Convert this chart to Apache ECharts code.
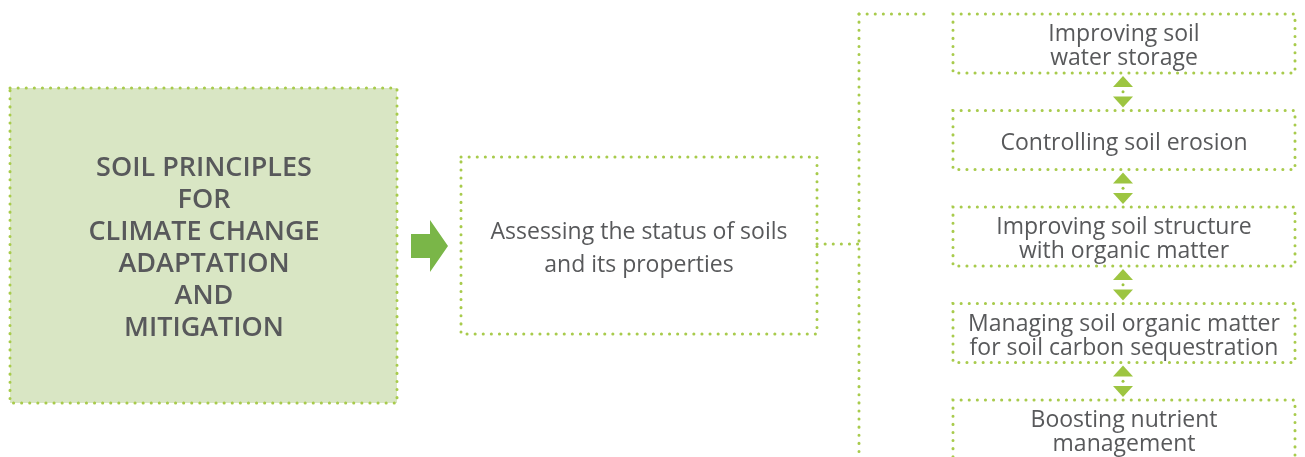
<!DOCTYPE html>
<html>
<head>
<meta charset="utf-8">
<script src="https://cdn.jsdelivr.net/npm/echarts@6/dist/echarts.min.js"></script>
<style>
  html, body { margin: 0; padding: 0; background: #fff; }
  #chart { width: 1305px; height: 457px; }
</style>
</head>
<body>
<div id="chart"></div>
<script>
// 文本数据
var titleLines = ['SOIL PRINCIPLES', 'FOR', 'CLIMATE CHANGE', 'ADAPTATION', 'AND', 'MITIGATION'];
var assessLines = ['Assessing the status of soils', 'and its properties'];
var steps = [
  ['Improving soil', 'water storage'],
  ['Controlling soil erosion'],
  ['Improving soil structure', 'with organic matter'],
  ['Managing soil organic matter', 'for soil carbon sequestration'],
  ['Boosting nutrient', 'management']
];

var chart = echarts.init(document.getElementById('chart'), null, { renderer: 'canvas' });

var GREEN = '#a8cb4c';
var ARROW = '#7ab648';
var TRI = '#9dc541';
var TEXT = '#58595b';
var FONT = '"Open Sans", "Noto Sans", sans-serif';

function dotted(x1, y1, x2, y2) {
  return {
    type: 'line',
    shape: { x1: x1, y1: y1, x2: x2, y2: y2 },
    style: { stroke: GREEN, lineWidth: 3, lineDash: [0.1, 8], lineCap: 'round' },
    silent: true
  };
}
function dottedRect(x, y, w, h, fill) {
  return {
    type: 'rect',
    shape: { x: x, y: y, width: w, height: h },
    style: { fill: fill || 'none', stroke: GREEN, lineWidth: 3, lineDash: [0.1, 8], lineCap: 'round' },
    silent: true
  };
}
function textBlock(lines, cx, cy, size, lh, weight) {
  var out = [];
  var top = cy - (lines.length - 1) * lh / 2;
  lines.forEach(function (t, i) {
    out.push({
      type: 'text',
      x: cx, y: top + i * lh,
      style: {
        text: t, fill: TEXT, font: weight + ' ' + size + 'px ' + FONT,
        textAlign: 'center', textVerticalAlign: 'middle'
      },
      silent: true
    });
  });
  return out;
}

var els = [];

// 左侧主题框
els.push(dottedRect(10, 88, 387, 315, '#d9e6c4'));
els = els.concat(textBlock(titleLines, 204, 248, 27, 32, '600'));

// 箭头
els.push({
  type: 'polygon',
  shape: { points: [[411, 234], [430, 234], [430, 220], [448, 246], [430, 272], [430, 258], [411, 258]] },
  style: { fill: ARROW },
  silent: true
});

// 中间框
els.push(dottedRect(461, 157, 356, 177));
els = els.concat(textBlock(assessLines, 639, 249, 23, 33, 'normal'));

// 连接线
els.push(dotted(817, 244, 859, 244));
els.push(dotted(859, 14, 859, 460));
els.push(dotted(859, 14, 930, 14));

// 右侧步骤
var boxX = 953, boxW = 342, boxH = 59, step = 96.5, top0 = 14;
steps.forEach(function (lines, i) {
  var y = top0 + i * step;
  els.push(dottedRect(boxX, y, boxW, boxH));
  els = els.concat(textBlock(lines, boxX + boxW / 2, y + boxH / 2 + 3, 23, 24, 'normal'));
  if (i < steps.length - 1) {
    var b = y + boxH, t = top0 + (i + 1) * step, cx = 1123;
    els.push({ type: 'polygon', shape: { points: [[cx - 10, b + 14], [cx + 10, b + 14], [cx, b + 3]] }, style: { fill: TRI }, silent: true });
    els.push({ type: 'circle', shape: { cx: cx, cy: (b + t) / 2, r: 1.5 }, style: { fill: TRI }, silent: true });
    els.push({ type: 'polygon', shape: { points: [[cx - 10, t - 14], [cx + 10, t - 14], [cx, t - 3]] }, style: { fill: TRI }, silent: true });
  }
});

chart.setOption({
  animation: false,
  graphic: { elements: els }
});
</script>
</body>
</html>
